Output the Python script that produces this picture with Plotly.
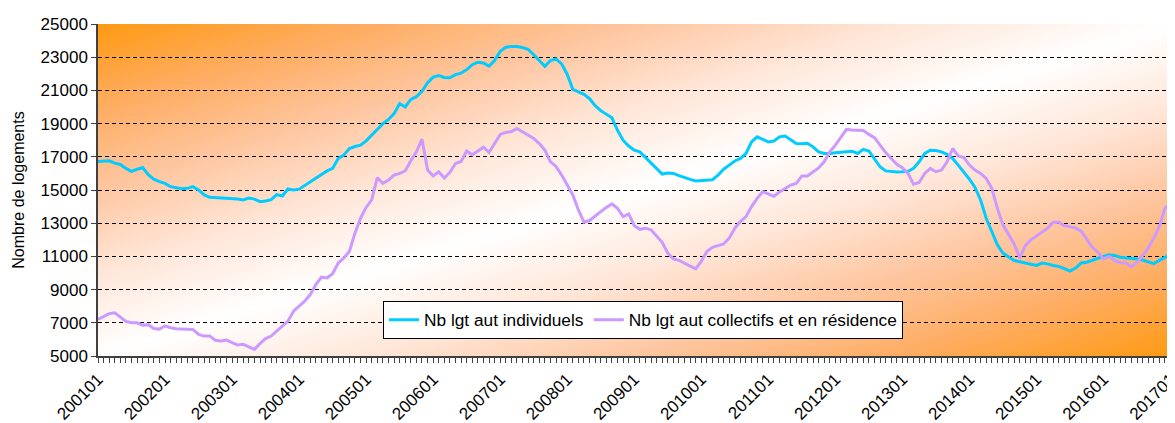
import base64
import plotly.graph_objects as go

# ---------------- data (monthly, 200101 .. 201701) ----------------
tick_labels = ["200101", "200201", "200301", "200401", "200501", "200601",
               "200701", "200801", "200901", "201001", "201101", "201201",
               "201301", "201401", "201501", "201601", "201701"]

individuels = [
    16720, 16740, 16760, 16620, 16540, 16300, 16120, 16250, 16350, 15920, 15650, 15500,
    15400, 15200, 15120, 15080, 15100, 15200, 15000, 14700, 14560, 14540, 14520, 14500,
    14520, 14460, 14400, 14520, 14450, 14300, 14340, 14420, 14720, 14640, 15060, 15000,
    15050, 15260, 15500, 15700, 15900, 16150, 16300, 16900, 17100, 17500, 17620, 17700,
    17960, 18300, 18600, 19000, 19250, 19600, 20200, 20000, 20460, 20620, 20950, 21460,
    21800, 21900, 21780, 21760, 21950, 22040, 22250, 22550, 22700, 22650, 22460, 22800,
    23350, 23600, 23640, 23640, 23580, 23470, 23150, 22800, 22450, 22800, 22900, 22600,
    21960, 21060, 20920, 20760, 20500, 20080, 19780, 19550, 19350, 18600, 18000, 17650,
    17400, 17300, 16960, 16650, 16280, 15960, 16020, 16000, 15870, 15740, 15640, 15540,
    15580, 15600, 15620, 15900, 16250, 16500, 16750, 16900, 17200, 17900, 18200, 18050,
    17900, 17950, 18200, 18250, 18050, 17800, 17780, 17820, 17600, 17300, 17200, 17200,
    17250, 17280, 17300, 17330, 17200, 17450, 17350, 16900, 16400, 16150, 16100, 16080,
    16100, 16130, 16300, 16700, 17200, 17400, 17380, 17300, 17150, 16900, 16500, 16100,
    15650, 15150, 14400, 13300, 12500, 11700, 11200, 10950, 10750, 10680, 10600, 10520,
    10460, 10600, 10550, 10450, 10400, 10260, 10120, 10300, 10600, 10650, 10780, 10900,
    11000, 11100, 11050, 10950, 10920, 10880, 10850, 10780, 10680, 10560, 10760, 10950,
    11120,
]

collectifs = [
    7200, 7400, 7550, 7600, 7350, 7080, 7000, 7000, 6860, 6880, 6650, 6620,
    6820, 6700, 6640, 6620, 6640, 6600, 6300, 6200, 6200, 5950, 5900, 5960,
    5800, 5660, 5700, 5550, 5400, 5750, 6050, 6200, 6500, 6760, 7100, 7700,
    8000, 8300, 8700, 9300, 9750, 9700, 9960, 10600, 10900, 11300, 12400, 13300,
    13950, 14400, 15750, 15400, 15600, 15900, 16000, 16150, 16760, 17300, 18060, 16200,
    15850, 16100, 15720, 16060, 16600, 16720, 17350, 17120, 17350, 17580, 17260, 17800,
    18350, 18470, 18520, 18700, 18500, 18250, 18100, 17800, 17400, 16700, 16420, 15900,
    15300, 14700, 13800, 13060, 13160, 13450, 13700, 13950, 14160, 13900, 13400, 13560,
    12850, 12630, 12700, 12600, 12200, 11850, 11200, 10850, 10760, 10600, 10420, 10250,
    10700, 11300, 11550, 11650, 11750, 12100, 12700, 13100, 13400, 14000, 14500, 14900,
    14750, 14620, 14880, 15100, 15300, 15400, 15850, 15850, 16100, 16330, 16700, 17300,
    17700, 18180, 18650, 18620, 18580, 18580, 18350, 18150, 17700, 17250, 16900, 16550,
    16350, 16000, 15350, 15450, 16000, 16300, 16100, 16200, 16700, 17500, 17050, 16950,
    16500, 16200, 16000, 15700, 15100, 13900, 12900, 12350, 11750, 10900, 11650, 12000,
    12250, 12450, 12700, 13050, 13050, 12850, 12780, 12720, 12520, 12000, 11550, 11250,
    10850, 11000, 10750, 10620, 10600, 10380, 10640, 11050, 11500, 12100, 12800, 13900,
    14200,
]

y_ticks = [5000, 7000, 9000, 11000, 13000, 15000, 17000, 19000, 21000, 23000, 25000]

months = list(range(len(individuels)))
tick_positions = [12 * k for k in range(len(tick_labels))]

# ---------------- background gradient (orange corners, white diagonal) ----------------
stops = [(0.0, "#FF9A12"), (0.125, "#FEAC60"), (0.25, "#FEC6A0"), (0.375, "#FFE6D8"),
         (0.5, "#FFFFFF"), (0.625, "#FFE6D8"), (0.75, "#FEC6A0"), (0.875, "#FEAC60"),
         (1.0, "#FF9A12")]
stop_xml = "".join('<stop offset="%g" stop-color="%s"/>' % s for s in stops)
svg = ('<svg xmlns="http://www.w3.org/2000/svg" width="100" height="100" '
       'viewBox="0 0 100 100" preserveAspectRatio="none"><defs>'
       '<linearGradient id="g" x1="0" y1="0" x2="1" y2="1">' + stop_xml +
       '</linearGradient></defs><rect width="100" height="100" fill="url(#g)"/></svg>')
bg_src = "data:image/svg+xml;base64," + base64.b64encode(svg.encode()).decode()

FONT = "Liberation Sans, Arial, sans-serif"
AXC = "#404040"

fig = go.Figure()
fig.add_trace(go.Scatter(x=months, y=individuels, mode="lines",
                         name="Nb lgt aut individuels",
                         line=dict(color="#00CCFF", width=3)))
fig.add_trace(go.Scatter(x=months, y=collectifs, mode="lines",
                         name="Nb lgt aut collectifs et en résidence",
                         line=dict(color="#CC99FF", width=3)))

# the page body has an 8px margin, so the figure is sized/offset to compensate
xr = [0, 192.8]
fig.update_layout(
    width=1167, height=415,
    margin=dict(l=90, r=0, t=16, b=67, autoexpand=False),
    paper_bgcolor="white",
    plot_bgcolor="rgba(0,0,0,0)",
    font=dict(family=FONT, size=16, color="black"),
    images=[dict(source=bg_src, xref="x domain", yref="y domain", x=0, y=1,
                 sizex=1, sizey=1, xanchor="left", yanchor="top",
                 sizing="stretch", layer="below")],
    legend=dict(orientation="h", x=(383 - 98) / 1077, y=(356 - 301) / 332,
                xanchor="left", yanchor="top", bgcolor="white",
                bordercolor="black", borderwidth=1,
                font=dict(family=FONT, size=17.3, color="black"),
                itemwidth=30),
    xaxis=dict(range=xr, tickmode="array", tickvals=tick_positions,
               ticktext=tick_labels, tickangle=-45, automargin=False,
               ticklabeloverflow="allow",
               tickfont=dict(family=FONT, size=17, color="black"),
               ticks="outside", ticklen=5, tickcolor=AXC, tickwidth=1,
               showline=True, linecolor=AXC, linewidth=1.5,
               showgrid=False, zeroline=False,
               minor=dict(tickmode="linear", tick0=0, dtick=1, ticks="outside",
                          ticklen=5, tickcolor=AXC, tickwidth=1, showgrid=False)),
    xaxis2=dict(range=xr, overlaying="x", side="top", showline=True,
                linecolor="#8c8c8c", linewidth=1.5, showticklabels=False,
                ticks="", showgrid=False, zeroline=False, automargin=False),
    yaxis=dict(range=[5000, 25000], tickmode="array", tickvals=y_ticks,
               tickformat="d", automargin=False,
               tickfont=dict(family=FONT, size=17, color="black"),
               ticks="outside", ticklen=5, tickcolor=AXC, tickwidth=1,
               showline=True, linecolor=AXC, linewidth=1.5,
               showgrid=True, gridcolor="black", gridwidth=1, griddash="4px,3px",
               zeroline=False,
               title=dict(text="Nombre de logements", standoff=12,
                          font=dict(family=FONT, size=16, color="black"))),
)

fig.write_html("out.html")
